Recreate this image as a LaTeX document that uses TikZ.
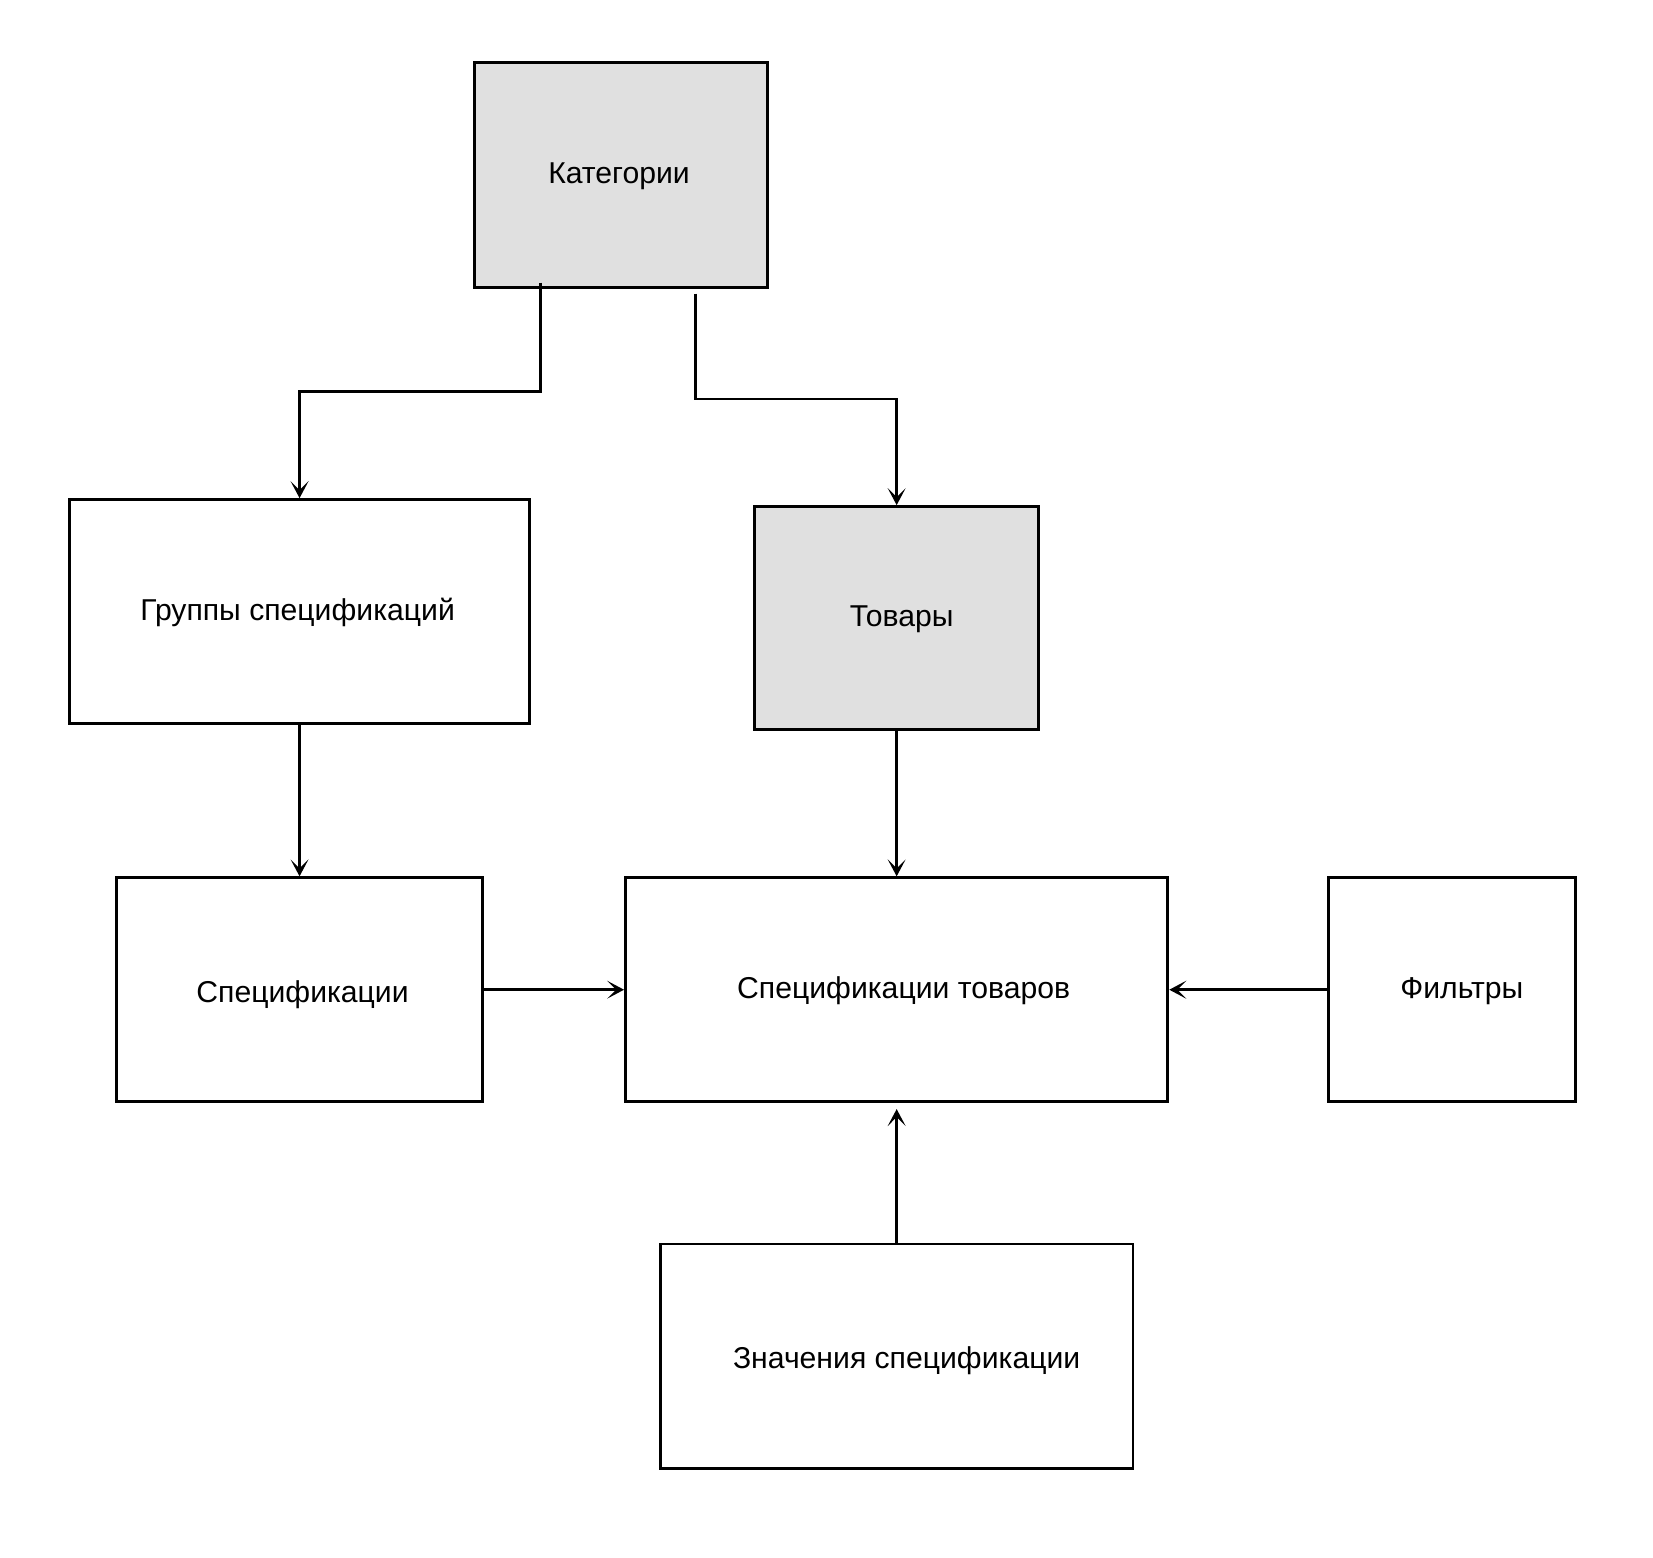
\documentclass[tikz,border=0pt]{standalone}
\usepackage{fontspec}
\setmainfont{Liberation Sans}
\usetikzlibrary{arrows.meta}
\definecolor{catgrey}{HTML}{E0E0E0}
\tikzset{
	block/.style={draw=black,line width=2.9pt,fill=white,inner sep=0pt},
	greyblock/.style={block,fill=catgrey},
	% text placed a little off the centre, as in the drawing
	txt/.style n args={3}{label={[xshift=#1,yshift=#2]center:#3}}
}
\begin{document}
\begin{tikzpicture}[x=1pt,y=-1pt,line width=2.8pt,>={Stealth[length=17pt,width=18pt,inset=9pt]},font=\fontsize{30.3}{36}\selectfont]
	\useasboundingbox (0,0) rectangle (1661,1565);
	\node[greyblock,minimum width=294pt,minimum height=226pt,txt={-2pt}{-1pt}{Категории}] (kat) at (624,176) {};
	\node[block,minimum width=462pt,minimum height=225pt,txt={-2pt}{-1pt}{Группы спецификаций}] (grp) at (301,614.5) {};
	\node[greyblock,minimum width=285pt,minimum height=224pt,txt={5pt}{-1pt}{Товары}] (tov) at (901,621) {};
	\node[block,minimum width=368pt,minimum height=225pt,txt={3pt}{-5pt}{Спецификации}] (spec) at (301,994.5) {};
	\node[block,minimum width=545pt,minimum height=225pt,txt={7pt}{-1pt}{Спецификации товаров}] (spt) at (901,994.5) {};
	\node[block,minimum width=249pt,minimum height=225pt,txt={10pt}{-1pt}{Фильтры}] (flt) at (1459,994.5) {};
	\node[block,minimum width=475pt,minimum height=226pt,txt={10pt}{-4pt}{Значения спецификации}] (val) at (901,1363) {};
	% free ends under the categories box
	\coordinate (k1) at (543,284);
	\coordinate (k2) at (699,295);
	\draw[->] (k1) -- (543,393) -| (grp.north);
	\draw[->] (k2) -- (699,401) -| (tov.north);
	\draw[->] (grp.south) -- (spec.north);
	\draw[->] (tov.south) -- (spt.north);
	\draw[->] (spec.east) -- (spt.west);
	\draw[->] (flt.west) -- (spt.east);
	\draw[->,shorten >=6pt] (val.north) -- (spt.south);
\end{tikzpicture}
\end{document}
